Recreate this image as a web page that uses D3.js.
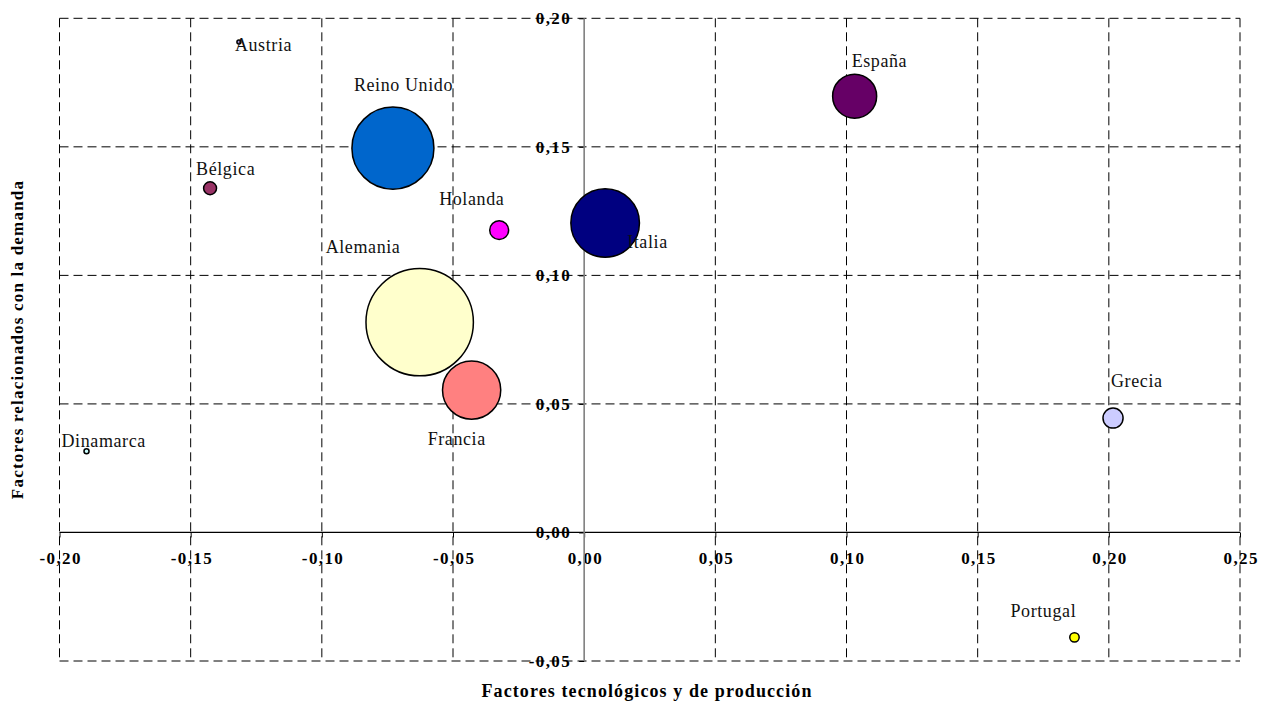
<!DOCTYPE html>
<html>
<head>
<meta charset="utf-8">
<script src="https://cdn.jsdelivr.net/npm/d3@7"></script>
<style>
  html, body { margin: 0; padding: 0; background: #fff; }
  svg { display: block; }
  text { font-family: "Liberation Serif", "Times New Roman", serif; }
</style>
</head>
<body>
<svg id="chart" width="1271" height="702"></svg>
<script>
// ---- data ----
const countries = ["Austria", "Bélgica", "Alemania", "Dinamarca", "España", "Francia",
                   "Reino Unido", "Grecia", "Italia", "Holanda", "Portugal"];
const techFactors =   [-0.1316, -0.1426, -0.0627, -0.1897, 0.1031, -0.0429, -0.0729, 0.2016, 0.0080, -0.0324, 0.1869];
const demandFactors = [ 0.1908,  0.1339,  0.0818,  0.0316, 0.1697,  0.0554,  0.1495, 0.0445, 0.1204,  0.1176, -0.0408];
const bubbleSizes =   [0.14, 1.45, 100, 0.22, 16.8, 29.4, 58.3, 3.5, 40.8, 3.1, 0.77];
const bubbleColors = ["#9999FF", "#993366", "#FFFFCC", "#CCFFFF", "#660066", "#FF8080",
                      "#0066CC", "#CCCCFF", "#000080", "#FF00FF", "#FFFF00"];
// label offsets (px) from bubble centre to label start/baseline
const labelDx = [-4, -14, -94, -25, -3, -44, -39, -2, 22, -60, -64];
const labelDy = [9.5, -13, -69, -4, -29, 55, -57, -31, 25, -25, -20.5];

const xTicks = [-0.20, -0.15, -0.10, -0.05, 0.00, 0.05, 0.10, 0.15, 0.20, 0.25];
const yTicks = [-0.05, 0.00, 0.05, 0.10, 0.15, 0.20];
const xTitle = "Factores tecnológicos y de producción";
const yTitle = "Factores relacionados con la demanda";

// ---- layout ----
const svg = d3.select("#chart");
const x = d3.scaleLinear().domain([-0.20, 0.25]).range([59.5, 1240]);
const y = d3.scaleLinear().domain([-0.05, 0.20]).range([661, 18.3]);
const r = d3.scaleSqrt().domain([0, 100]).range([0, 53.7]);
const fmt = v => d3.format(".2f")(v).replace(".", ",").replace("−", "-");

const data = countries.map((c, i) => ({
  name: c, x: techFactors[i], y: demandFactors[i], s: bubbleSizes[i],
  color: bubbleColors[i], dx: labelDx[i], dy: labelDy[i]
}));

// tick labels (drawn first so grid lines cross them)
const yAxisG = svg.append("g").attr("transform", `translate(${x(0)},0)`)
  .call(d3.axisLeft(y).tickValues(yTicks).tickFormat(fmt).tickSize(5).tickPadding(8));
yAxisG.select(".domain").remove();
yAxisG.selectAll(".tick line").attr("stroke", "#000");
yAxisG.selectAll(".tick text")
  .attr("font-family", "Liberation Serif").attr("font-weight", "bold")
  .attr("font-size", 17).attr("letter-spacing", "1.4px").attr("fill", "#000");

const xAxisG = svg.append("g").attr("transform", `translate(0,${y(0)})`)
  .call(d3.axisBottom(x).tickValues(xTicks).tickFormat(fmt).tickSize(5).tickPadding(14));
xAxisG.select(".domain").remove();
xAxisG.selectAll(".tick line").attr("stroke", "#000");
xAxisG.selectAll(".tick text")
  .attr("font-family", "Liberation Serif").attr("font-weight", "bold")
  .attr("font-size", 17).attr("letter-spacing", "1.4px").attr("fill", "#000")
  .attr("dx", "0.7px");

// grid lines
const grid = svg.append("g").attr("stroke", "#000").attr("stroke-width", 1)
  .attr("stroke-dasharray", "9,5").attr("fill", "none");
grid.selectAll("line.h").data(yTicks.filter(v => v !== 0)).join("line")
  .attr("x1", x(-0.20)).attr("x2", x(0.25))
  .attr("y1", d => y(d)).attr("y2", d => y(d));
grid.selectAll("line.v").data(xTicks.filter(v => v !== 0)).join("line")
  .attr("x1", d => x(d)).attr("x2", d => x(d))
  .attr("y1", y(0.20)).attr("y2", y(-0.05));

// axes lines
svg.append("line").attr("x1", x(-0.20)).attr("x2", x(0.25))
  .attr("y1", y(0)).attr("y2", y(0)).attr("stroke", "#000").attr("stroke-width", 1.3);
svg.append("line").attr("x1", x(0)).attr("x2", x(0))
  .attr("y1", y(0.20)).attr("y2", y(-0.05)).attr("stroke", "#808080").attr("stroke-width", 1.6);

// bubbles (largest first)
svg.append("g").selectAll("circle")
  .data(data.slice().sort((a, b) => b.s - a.s)).join("circle")
  .attr("cx", d => x(d.x)).attr("cy", d => y(d.y))
  .attr("r", d => Math.max(r(d.s), 1.8))
  .attr("fill", d => d.color).attr("stroke", "#000").attr("stroke-width", 1.5);

// data labels
svg.append("g").selectAll("text").data(data).join("text")
  .attr("x", d => x(d.x) + d.dx).attr("y", d => y(d.y) + d.dy)
  .attr("font-size", 18).attr("letter-spacing", "0.6px").attr("fill", "#111")
  .text(d => d.name);

// axis titles
svg.append("text").attr("x", 647).attr("y", 697).attr("text-anchor", "middle")
  .attr("font-weight", "bold").attr("font-size", 18).attr("letter-spacing", "1.1px")
  .text(xTitle);
svg.append("text").attr("transform", "translate(23,339.5) rotate(-90)")
  .attr("text-anchor", "middle")
  .attr("font-weight", "bold").attr("font-size", 17).attr("letter-spacing", "1.2px")
  .text(yTitle);
</script>
</body>
</html>
